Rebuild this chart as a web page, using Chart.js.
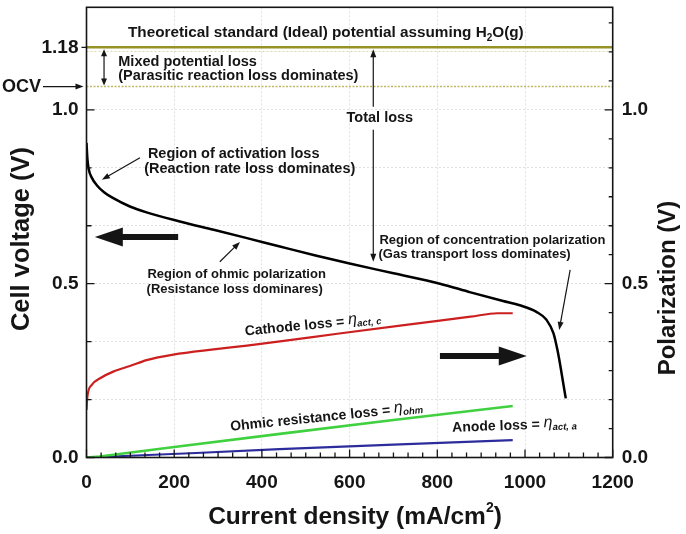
<!DOCTYPE html>
<html>
<head>
<meta charset="utf-8">
<script src="https://cdn.jsdelivr.net/npm/chart.js@4.4.1/dist/chart.umd.min.js"></script>
<style>
  html, body { margin: 0; padding: 0; background: #fff; }
  #wrap { width: 686px; height: 534px; }
</style>
</head>
<body>
<div id="wrap"><canvas id="grafico" width="686" height="534"></canvas></div>
<script>
// ===== DATA =====
const cellCurrent = [0, 2, 5, 12, 23, 40, 61, 99, 137, 213, 290, 366, 441, 520, 600, 700, 806, 876, 950, 988, 1026, 1049, 1065, 1074, 1081, 1087, 1093];
const cellVoltage = [0.905, 0.86, 0.83, 0.805, 0.784, 0.763, 0.746, 0.722, 0.705, 0.679, 0.655, 0.631, 0.607, 0.582, 0.558, 0.530, 0.500, 0.475, 0.450, 0.438, 0.419, 0.396, 0.357, 0.309, 0.261, 0.215, 0.170];

const cathodeCurrent = [0, 2, 12, 31, 61, 99, 137, 198, 290, 366, 441, 572, 724, 876, 937, 972];
const cathodeLoss = [0.137, 0.175, 0.209, 0.228, 0.247, 0.263, 0.280, 0.296, 0.311, 0.322, 0.334, 0.356, 0.381, 0.405, 0.415, 0.415];

const ohmicCurrent = [0, 30, 200, 441, 700, 972];
const ohmicLoss = [0, 0.003, 0.030, 0.068, 0.108, 0.148];

const anodeCurrent = [0, 100, 250, 440, 700, 972];
const anodeLoss = [0, 0.005, 0.013, 0.024, 0.037, 0.050];

const idealPotential = 1.18;
const ocvVoltage = 1.067;

const xLabels = [0, 200, 400, 600, 800, 1000, 1200];
const yLabels = [0.0, 0.5, 1.0];
const xMinorStep = 200 / 6;
const yLeftStep = 1 / 6;
const yRightStep = 1 / 12;

// ===== LAYOUT =====
const W = 686, H = 534;
const AREA = { left: 86.5, right: 612.7, top: 7.3, bottom: 457.5 };
const FONT = '"Liberation Sans", Arial, Helvetica, sans-serif';
const INK = "#151515";

const pts = (xs, ys) => xs.map((x, i) => ({ x, y: ys[i] }));
const near = (v, list) => list.some(l => Math.abs(v - l) < 1e-6);

// ===== DRAW HELPERS =====
function rich(ctx, x, y, parts, align) {
  let w = 0;
  parts.forEach(p => { ctx.font = p[1]; w += ctx.measureText(p[0]).width; });
  let cx = align === "center" ? x - w / 2 : x;
  parts.forEach(p => {
    ctx.font = p[1];
    ctx.fillText(p[0], cx, y + (p[2] || 0));
    cx += ctx.measureText(p[0]).width;
  });
}

function thinArrow(ctx, x1, y1, x2, y2, head) {
  const a = Math.atan2(y2 - y1, x2 - x1);
  const h = head || 8;
  ctx.beginPath();
  ctx.moveTo(x1, y1);
  ctx.lineTo(x2 - Math.cos(a) * h * 0.8, y2 - Math.sin(a) * h * 0.8);
  ctx.stroke();
  ctx.beginPath();
  ctx.moveTo(x2, y2);
  ctx.lineTo(x2 - h * Math.cos(a) + 3 * Math.sin(a), y2 - h * Math.sin(a) - 3 * Math.cos(a));
  ctx.lineTo(x2 - h * Math.cos(a) - 3 * Math.sin(a), y2 - h * Math.sin(a) + 3 * Math.cos(a));
  ctx.closePath();
  ctx.fill();
}

function fatArrow(ctx, xTail, xTip, y) {
  const dir = Math.sign(xTip - xTail);
  const headL = 28, headH = 9.5, shaft = 3;
  const xb = xTip - dir * headL;
  ctx.beginPath();
  ctx.moveTo(xTail, y - shaft);
  ctx.lineTo(xb, y - shaft);
  ctx.lineTo(xb, y - headH);
  ctx.lineTo(xTip, y);
  ctx.lineTo(xb, y + headH);
  ctx.lineTo(xb, y + shaft);
  ctx.lineTo(xTail, y + shaft);
  ctx.closePath();
  ctx.fill();
}

// ===== PLUGIN: frame, ticks, annotations =====
const annotations = {
  id: "annotations",
  afterDraw(chart) {
    const ctx = chart.ctx;
    const a = chart.chartArea;
    const sx = chart.scales.x, sy = chart.scales.y, sy2 = chart.scales.y2;
    const px = v => sx.getPixelForValue(v);
    const py = v => sy.getPixelForValue(v);
    ctx.save();

    // frame
    ctx.strokeStyle = INK;
    ctx.lineWidth = 1.6;
    ctx.strokeRect(a.left, a.top, a.right - a.left, a.bottom - a.top);

    // inward ticks
    ctx.lineWidth = 1.3;
    ctx.beginPath();
    sx.ticks.forEach(t => {
      const X = px(t.value);
      const L = near(t.value, xLabels) ? 8 : 5;
      ctx.moveTo(X, a.bottom); ctx.lineTo(X, a.bottom - L);
    });
    sy.ticks.forEach(t => {
      const Y = py(t.value);
      if (near(t.value, [idealPotential])) { ctx.moveTo(a.left - 5, Y); ctx.lineTo(a.left, Y); return; }
      const L = near(t.value, yLabels) ? 8 : 5;
      ctx.moveTo(a.left, Y); ctx.lineTo(a.left + L, Y);
    });
    sy2.ticks.forEach(t => {
      const Y = sy2.getPixelForValue(t.value);
      const L = near(t.value, yLabels) ? 8 : 4;
      ctx.moveTo(a.right, Y); ctx.lineTo(a.right - L, Y);
    });
    ctx.stroke();

    ctx.fillStyle = INK;
    ctx.strokeStyle = INK;
    ctx.textBaseline = "middle";
    ctx.textAlign = "left";

    // axis titles
    const big = "bold 24.5px " + FONT;
    rich(ctx, 355, 517, [["Current density (mA/cm", big], ["2", "bold 14px " + FONT, -9], [")", big]], "center");
    ctx.save();
    ctx.translate(22, 239); ctx.rotate(-Math.PI / 2);
    rich(ctx, 0, 0, [["Cell voltage (V)", "bold 25.5px " + FONT]], "center");
    ctx.restore();
    ctx.save();
    ctx.translate(668, 288); ctx.rotate(-Math.PI / 2);
    rich(ctx, 0, 0, [["Polarization (V)", "bold 24px " + FONT]], "center");
    ctx.restore();

    // OCV marker
    rich(ctx, 2, py(ocvVoltage), [["OCV", "bold 18px " + FONT]]);
    ctx.lineWidth = 1.3;
    thinArrow(ctx, 43, py(ocvVoltage), a.left - 3, py(ocvVoltage), 8);

    const f = "bold 13px " + FONT;
    const fm = "bold 14.5px " + FONT;
    const eta = "italic 16px " + FONT;
    const sub = "italic bold 9.5px " + FONT;
    const fl = "bold 14px " + FONT;

    // ideal potential text
    rich(ctx, px(94.6), py(1.2207), [
      ["Theoretical standard (Ideal) potential assuming H", "bold 15.3px " + FONT], ["2", "bold 10px " + FONT, 5], ["O(g)", "bold 15.3px " + FONT]
    ]);

    // mixed potential
    rich(ctx, px(72.5), py(1.139), [["Mixed potential loss", fm]]);
    rich(ctx, px(72.5), py(1.098), [["(Parasitic reaction loss dominates)", fm]]);
    ctx.lineWidth = 1.2;
    const xm = px(40);
    const ym = (py(idealPotential) + py(ocvVoltage)) / 2;
    thinArrow(ctx, xm, ym, xm, py(idealPotential) + 2, 7);
    thinArrow(ctx, xm, ym, xm, py(ocvVoltage) - 1, 7);

    // total loss
    const xt = px(654);
    thinArrow(ctx, xt, py(0.977) - 11, xt, py(idealPotential) + 2, 8);
    thinArrow(ctx, xt, py(0.977) + 12, xt, py(0.563), 8);
    rich(ctx, px(669), py(0.977), [["Total loss", fm]], "center");

    // activation
    rich(ctx, px(140), py(0.873), [["Region of activation loss", fm]]);
    rich(ctx, px(131.5), py(0.829), [["(Reaction rate loss dominates)", fm]]);
    thinArrow(ctx, px(122), py(0.862), px(35), py(0.799), 8);

    // ohmic polarization
    rich(ctx, px(139), py(0.527), [["Region of ohmic polarization", f]]);
    rich(ctx, px(137), py(0.484), [["(Resistance loss dominares)", f]]);
    thinArrow(ctx, px(304), py(0.563), px(350), py(0.620), 8);

    // concentration polarization
    rich(ctx, px(668), py(0.623), [["Region of concentration polarization", f]]);
    rich(ctx, px(666), py(0.583), [["(Gas transport loss dominates)", f]]);
    thinArrow(ctx, px(1103), py(0.540), px(1078), py(0.367), 8);

    // fat arrows
    fatArrow(ctx, px(209), px(19), py(0.634));
    fatArrow(ctx, px(806), px(1004), py(0.292));

    // loss labels
    const lossLabel = (x, v, deg, parts) => {
      ctx.save();
      ctx.translate(px(x), py(v));
      ctx.rotate(deg * Math.PI / 180);
      rich(ctx, 0, 0, parts);
      ctx.restore();
    };
    lossLabel(361, 0.362, -5.5, [["Cathode loss = ", fl], ["\u03b7", eta, -2], ["act, c", sub, 3]]);
    lossLabel(328, 0.088, -5.8, [["Ohmic resistance loss = ", fl], ["\u03b7", eta, -2], ["ohm", sub, 3]]);
    lossLabel(834, 0.085, -2, [["Anode loss = ", fl], ["\u03b7", eta, -2], ["act, a", sub, 3]]);

    ctx.restore();
  }
};

// ===== CHART =====
const tickFont = { family: FONT, size: 19, weight: "bold" };
const gridFaint = "rgba(170,170,170,0.35)";
const noPad = s => { s.paddingTop = 0; s.paddingBottom = 0; };

new Chart(document.getElementById("grafico"), {
  type: "line",
  data: {
    datasets: [
      { data: pts([0, 1200], [idealPotential, idealPotential]), borderColor: "#969226", borderWidth: 2.5 },
      { data: pts([0, 1200], [idealPotential - 0.012, idealPotential - 0.012]), borderColor: "rgba(190,186,110,0.6)", borderWidth: 1, borderDash: [2, 2] },
      { data: pts([0, 1200], [ocvVoltage, ocvVoltage]), borderColor: "#bdb766", borderWidth: 1.5, borderDash: [2, 1.5] },
      { data: pts(cellCurrent, cellVoltage), borderColor: "#000", borderWidth: 2.5, cubicInterpolationMode: "monotone" },
      { data: pts(cathodeCurrent, cathodeLoss), borderColor: "#cc2020", borderWidth: 2.2, cubicInterpolationMode: "monotone", yAxisID: "y2" },
      { data: pts(ohmicCurrent, ohmicLoss), borderColor: "#40d040", borderWidth: 2.6, yAxisID: "y2" },
      { data: pts(anodeCurrent, anodeLoss), borderColor: "#2c2c9c", borderWidth: 2.2, yAxisID: "y2" }
    ]
  },
  options: {
    responsive: false,
    animation: false,
    elements: { point: { radius: 0 }, line: { tension: 0 } },
    layout: { padding: { left: 0, right: 0, top: AREA.top, bottom: 0 } },
    plugins: { legend: { display: false }, tooltip: { enabled: false } },
    scales: {
      x: {
        type: "linear", min: 0, max: 1200,
        afterFit: s => { s.height = H - AREA.bottom; s.paddingLeft = 0; s.paddingRight = 0; },
        afterBuildTicks: s => {
          const t = [];
          for (let k = 0; k <= 36; k++) t.push({ value: k * xMinorStep });
          s.ticks = t;
        },
        ticks: {
          autoSkip: false, maxRotation: 0, padding: 14, color: INK, font: tickFont,
          callback: v => near(v, xLabels) ? String(Math.round(v)) : ""
        },
        grid: {
          drawTicks: false,
          lineWidth: 1,
          color: c => (c.tick && near(c.tick.value, xLabels) && c.tick.value > 1 && c.tick.value < 1199) ? gridFaint : "rgba(0,0,0,0)"
        },
        border: { display: false, dash: [2, 2] }
      },
      y: {
        position: "left", min: 0, max: 1.295,
        afterFit: s => { s.width = AREA.left; noPad(s); },
        afterBuildTicks: s => {
          const t = [];
          for (let k = 0; k <= 6; k++) t.push({ value: k * yLeftStep });
          t.push({ value: idealPotential });
          s.ticks = t;
        },
        ticks: {
          autoSkip: false, padding: 8, color: INK, font: tickFont,
          callback: v => near(v, [idealPotential]) ? v.toFixed(2) : (near(v, yLabels) ? v.toFixed(1) : "")
        },
        grid: {
          drawTicks: false,
          color: c => (c.tick && c.tick.value > 0.01 && !near(c.tick.value, [idealPotential])) ? gridFaint : "rgba(0,0,0,0)"
        },
        border: { display: false, dash: [2, 2] }
      },
      y2: {
        position: "right", min: 0, max: 1.295,
        afterFit: s => { s.width = W - AREA.right; noPad(s); },
        afterBuildTicks: s => {
          const t = [];
          for (let k = 0; k <= 15; k++) t.push({ value: k * yRightStep });
          s.ticks = t;
        },
        ticks: {
          autoSkip: false, padding: 9, color: INK, font: tickFont,
          callback: v => near(v, yLabels) ? v.toFixed(1) : ""
        },
        grid: { display: false, drawTicks: false },
        border: { display: false }
      }
    }
  },
  plugins: [annotations]
});
</script>
</body>
</html>
